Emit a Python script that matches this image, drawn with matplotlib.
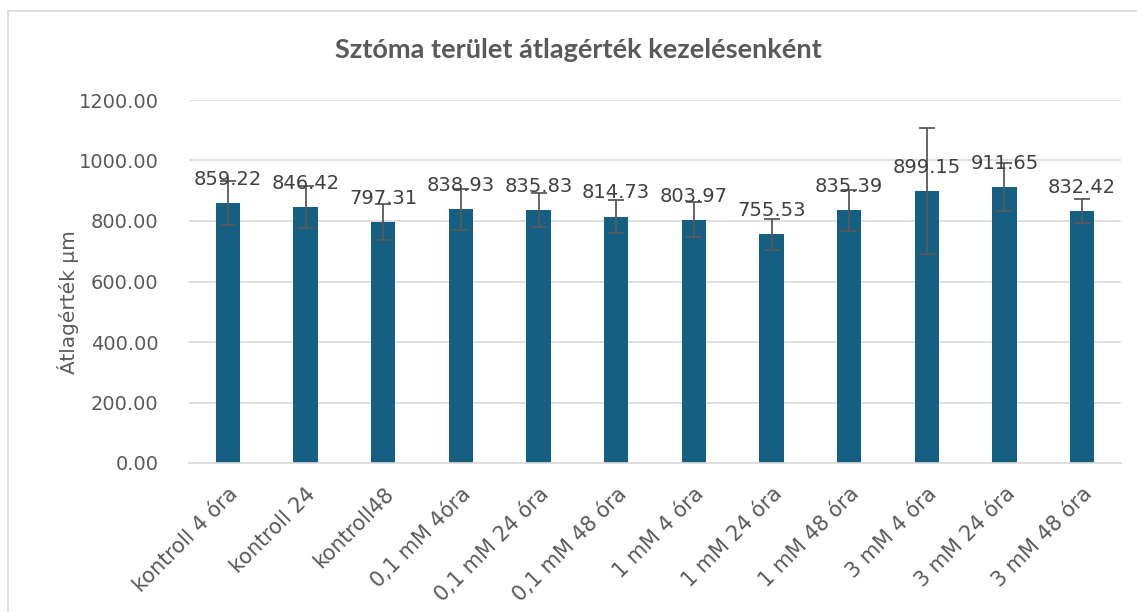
import matplotlib
matplotlib.use("Agg")
import matplotlib.pyplot as plt
from matplotlib.patches import Rectangle

categories = ["kontroll 4 óra", "kontroll 24", "kontroll48", "0,1 mM 4óra",
              "0,1 mM 24 óra", "0,1 mM 48 óra", "1 mM 4 óra", "1 mM 24 óra",
              "1 mM 48 óra", "3 mM 4 óra", "3 mM 24 óra", "3 mM 48 óra"]
means = [859.22, 846.42, 797.31, 838.93, 835.83, 814.73,
         803.97, 755.53, 835.39, 899.15, 911.65, 832.42]
errors = [72, 68, 60, 68, 57, 54, 58, 50, 67, 209, 79, 40]
yticks = [0, 200, 400, 600, 800, 1000, 1200]

TXT = "#595959"
BAR = "#156082"

plt.rcParams["font.family"] = ["DejaVu Sans"]

W, H = 1137, 612
fig = plt.figure(figsize=(W / 100, H / 100), dpi=100)
ax = fig.add_axes([189 / W, (H - 463) / H, 932 / W, 363 / H])

# chart frame (light grey, only left/top visible in the crop)
fig.patches.append(Rectangle((8 / W, -0.1), 1.2, (H - 11) / H + 0.1,
                             transform=fig.transFigure, fill=False,
                             ec="#d9d9d9", lw=1.2))

x = range(len(categories))
ax.bar(x, means, width=0.31, color=BAR, zorder=2)
ax.errorbar(x, means, yerr=errors, fmt="none", ecolor=TXT, elinewidth=1.3,
            capsize=5.5, capthick=1.3, zorder=3)
for i, v in enumerate(means):
    ax.annotate(f"{v:.2f}", (i, v), xytext=(0, 13), textcoords="offset points",
                ha="center", va="baseline", fontsize=14, color="#404040", zorder=4)

ax.set_xlim(-0.5, len(categories) - 0.5)
ax.set_ylim(0, 1200)
ax.set_yticks(yticks)
ax.set_yticklabels([f"{t:.2f}" for t in yticks], fontsize=14, color=TXT)
ax.set_xticks(list(x))
ax.set_xticklabels(categories, rotation=45, ha="right", rotation_mode="anchor",
                   fontsize=15, color=TXT)
ax.tick_params(axis="both", length=0, pad=22)
ax.tick_params(axis="x", pad=15)
ax.grid(axis="y", color="#d9d9d9", lw=1.2, zorder=0)
for s in ["top", "right", "left"]:
    ax.spines[s].set_visible(False)
ax.spines["bottom"].set_color("#d9d9d9")
ax.spines["bottom"].set_linewidth(1.2)

ax.set_ylabel("Átlagérték µm", fontsize=14.5, color=TXT)
ax.yaxis.set_label_coords(-0.118, 0.444)
fig.text(0.5 * (333 + 823) / W, 1 - 50 / H, "Sztóma terület átlagérték kezelésenként",
         ha="center", va="center", fontsize=19.5, fontweight="bold", color=TXT,
         family="Lato")

fig.savefig("out.png", dpi=100)
